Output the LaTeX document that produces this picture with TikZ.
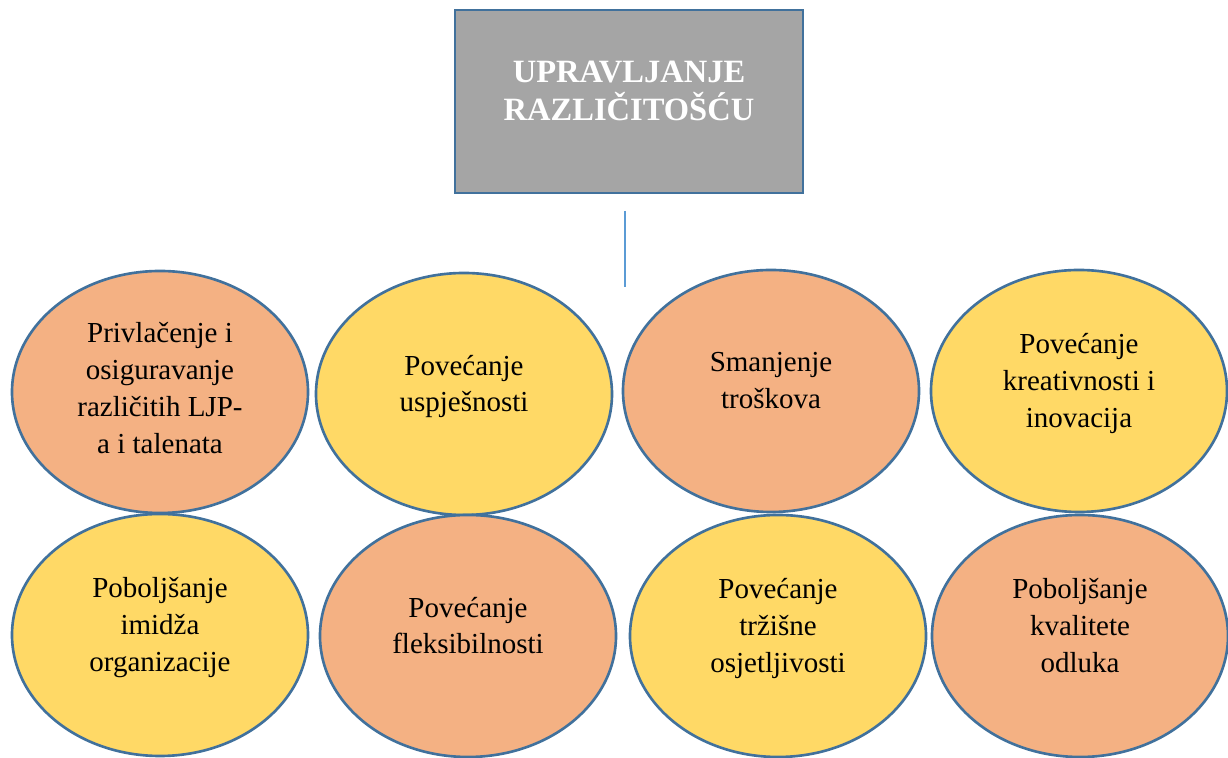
\documentclass[tikz,border=0pt]{standalone}
\usepackage{fontspec}
\setmainfont{Liberation Serif}
\usepackage{tikz}
\usetikzlibrary{shapes.geometric}
\definecolor{rimblue}{HTML}{41719C}
\definecolor{stemblue}{HTML}{5B9BD5}
\definecolor{boxgrey}{HTML}{A5A5A5}
\definecolor{peach}{HTML}{F4B183}
\definecolor{gold}{HTML}{FFD966}
\begin{document}
\begin{tikzpicture}[
  benefit/.style={ellipse, draw=rimblue, line width=1.5pt, inner sep=0pt,
    minimum width=5.92cm, minimum height=4.84cm, align=center,
    font=\fontsize{16.5}{21}\selectfont, text depth=12pt},
  headbox/.style={rectangle, draw=rimblue, line width=1.6pt, fill=boxgrey,
    minimum width=6.96cm, minimum height=3.66cm, align=center, text=white,
    font=\fontsize{18.5}{21.5}\selectfont\bfseries, text depth=12pt}]

 \useasboundingbox (0,0) rectangle (24.56,15.16);

 \node (head) at (12.58,13.13) [headbox] {UPRAVLJANJE\\RAZLIČITOŠĆU};
 \coordinate (stemtop) at (12.5,10.94);
 \coordinate (stembot) at (12.5,9.42);
 \draw[stemblue, line width=0.7pt] (stemtop) -- (stembot);

 % upper row
 \node (attract) at (3.20,7.32) [benefit, fill=peach, text depth=5pt]
   {Privlačenje i\\osiguravanje\\različitih LJP-\\a i talenata};
 \node (success) at (9.28,7.28) [benefit, fill=gold] {Povećanje\\uspješnosti};
 \node (costs) at (15.42,7.34) [benefit, fill=peach] {Smanjenje\\troškova};
 \node (creative) at (21.58,7.34) [benefit, fill=gold]
   {Povećanje\\kreativnosti i\\inovacija};

 % lower row
 \node (image) at (3.20,2.46) [benefit, fill=gold]
   {Poboljšanje\\imidža\\organizacije};
 \node (flex) at (9.36,2.44) [benefit, fill=peach] {Povećanje\\fleksibilnosti};
 \node (market) at (15.56,2.44) [benefit, fill=gold]
   {Povećanje\\tržišne\\osjetljivosti};
 \node (quality) at (21.60,2.44) [benefit, fill=peach]
   {Poboljšanje\\kvalitete\\odluka};
\end{tikzpicture}
\end{document}
